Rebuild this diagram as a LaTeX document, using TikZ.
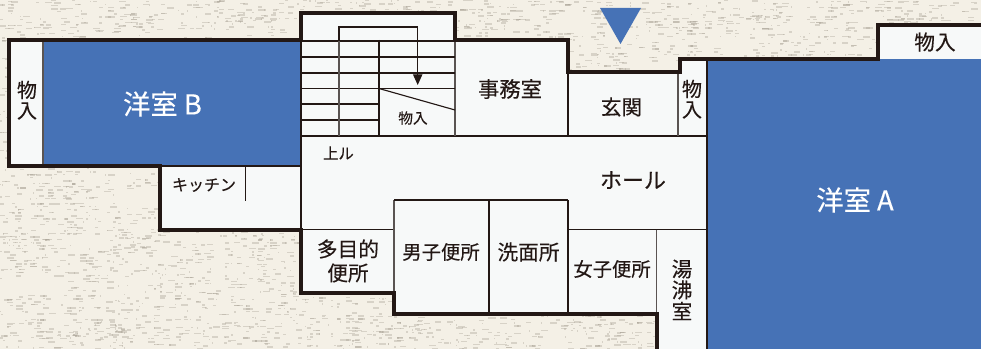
\documentclass[tikz,border=0pt]{standalone}
\usepackage{fontspec}
\setmainfont[FakeBold=0.25]{Noto Sans CJK JP}
\usetikzlibrary{arrows.meta}
\definecolor{paper}{HTML}{F4F0E6}
\definecolor{speck}{HTML}{A8A295}
\definecolor{floorc}{HTML}{F7F9F9}
\definecolor{roomblue}{HTML}{4672B6}
\definecolor{ink}{HTML}{231815}
\definecolor{wallgray}{HTML}{5A5452}
\tikzset{
  outerwall/.style={draw=ink,line width=2.3pt,line join=miter,line cap=rect},
  thinwall/.style={draw=ink,line width=0.85pt},
  graywall/.style={draw=wallgray,line width=0.9pt},
  stairline/.style={draw=ink,line width=0.85pt},
  lbl/.style={text=ink,inner sep=0pt,align=center},
  lblw/.style={text=white,inner sep=0pt},
  speckle/.style={fill=speck,opacity=0.38},
}
\newcommand{\fs}[1]{\fontsize{#1}{#1}\selectfont}
\begin{document}
\begin{tikzpicture}[x=0.75pt,y=-0.75pt]
\useasboundingbox (0,0) rectangle (981,349);
\fill[paper] (0,0) rectangle (981,349);
% paper texture: blotches of fine cross-hatched specks, on a regular tile
\pgfmathsetseed{4711}
\foreach \cx in {0,48,...,984}{
  \foreach \cy in {0,44,...,352}{
    \pgfmathsetmacro{\ox}{\cx+random(-10,10)}
    \pgfmathsetmacro{\oy}{\cy+random(-10,10)}
    \foreach \k in {1,...,44}{
      \pgfmathsetmacro{\xx}{\ox+3*random(-8,8)}
      \pgfmathsetmacro{\yy}{\oy+3*random(-7,7)}
      \pgfmathsetmacro{\ww}{random(1,7)}
      \pgfmathsetmacro{\hh}{random(1,2)}
      \path[speckle] (\xx,\yy) rectangle ++(\ww,\hh);
    }
  }
}
% floor
\fill[floorc] (9,40) -- (301,40) -- (301,13) -- (455,13) -- (455,40) -- (568,40) -- (568,72) -- (680,72) -- (680,59) -- (878,59) -- (878,25) -- (981,25) -- (981,349) -- (657,349) -- (657,314) -- (394,314) -- (394,293) -- (301,293) -- (301,230) -- (160,230) -- (160,166) -- (9,166) -- cycle;
% blue rooms
\fill[roomblue] (43,40) rectangle (301,166);
\fill[roomblue] (707,59) rectangle (981,349);
% thin partitions
\draw[graywall] (43,40) -- (43,166);
\draw[thinwall] (160,166) -- (301,166);
\draw[thinwall] (301,40) -- (301,230);
\draw[thinwall] (301,136) -- (707,136);
\draw[graywall] (455,40) -- (455,136);
\draw[thinwall] (568,72) -- (568,136);
\draw[graywall] (678,72) -- (678,136);
\draw[thinwall] (707,59) -- (707,349);
\draw[thinwall] (245.5,166) -- (245.5,201);
\draw[thinwall] (301,229.5) -- (394,229.5);
\draw[graywall] (394,200) -- (394,293);
\draw[thinwall] (394,200) -- (568,200);
\draw[thinwall] (489,200) -- (489,314);
\draw[thinwall] (568,200) -- (568,314);
\draw[thinwall] (568,229.5) -- (707,229.5);
\draw[graywall] (656.5,229.5) -- (656.5,349);
% stairs
\foreach \yy in {41,57,73,88.5}{\draw[stairline] (301,\yy) -- (455,\yy);}
\foreach \yy in {104,120}{\draw[stairline] (301,\yy) -- (379,\yy);}
\draw[graywall] (339,41) -- (339,136);
\draw[draw=ink,line width=1.6pt] (379,40) -- (379,136);
\draw[stairline] (379,88.5) -- (455,110);
\coordinate (stairstart) at (339,41);
\coordinate (stairend) at (417.7,85);
\draw[stairline,-{Triangle[length=8pt,width=7pt]}] (stairstart) -- (339,27) -- (417.7,27) -- (stairend);
% outer walls
\draw[outerwall] (9,40) -- (301,40) -- (301,13) -- (455,13) -- (455,40) -- (568,40) -- (568,72) -- (680,72) -- (680,59) -- (878,59) -- (878,25) -- (981,25);
\draw[outerwall] (9,40) -- (9,166) -- (160,166) -- (160,230) -- (301,230) -- (301,293) -- (394,293) -- (394,314) -- (657,314) -- (657,349);
% entrance marker
\fill[roomblue] (600,8) -- (641,8) -- (620.5,44) -- cycle;
% labels
\node[lblw,font=\fs{20.5}] (roomB) at (162.5,104) {洋室 B};
\node[lblw,font=\fs{20.5}] (roomA) at (855,200) {洋室 A};
\node[lbl,font=\fs{15}] (storeL1) at (27,90) {物};
\node[lbl,font=\fs{15}] (storeL2) at (27,111) {入};
\node[lbl,font=\fs{11}] (storeS) at (413,118) {物入};
\node[lbl,font=\fs{16}] (office) at (510,89) {事務室};
\node[lbl,font=\fs{15.5}] (entry) at (621.5,107) {玄関};
\node[lbl,font=\fs{15}] (storeM1) at (692,89) {物};
\node[lbl,font=\fs{15}] (storeM2) at (692,110) {入};
\node[lbl,font=\fs{15.5}] (storeR) at (935,42) {物入};
\node[lbl,font=\fs{11.5}] (up) at (338.5,153) {上ル};
\node[lbl,font=\fs{12}] (kitchen) at (204,185) {キッチン};
\node[lbl,font=\fs{16.5}] (hall) at (633,180) {ホール};
\node[lbl,font=\fs{15.5}] (multi1) at (348,249) {多目的};
\node[lbl,font=\fs{15.5}] (multi2) at (348,273) {便所};
\node[lbl,font=\fs{14.5}] (men) at (441,252) {男子便所};
\node[lbl,font=\fs{15.5}] (wash) at (528.5,252) {洗面所};
\node[lbl,font=\fs{14.5}] (women) at (612,269) {女子便所};
\node[lbl,font=\fs{15.5}] (yu) at (682,269) {湯};
\node[lbl,font=\fs{15.5}] (wa) at (682,290) {沸};
\node[lbl,font=\fs{15.5}] (shitsu) at (682,311) {室};
\end{tikzpicture}
\end{document}
